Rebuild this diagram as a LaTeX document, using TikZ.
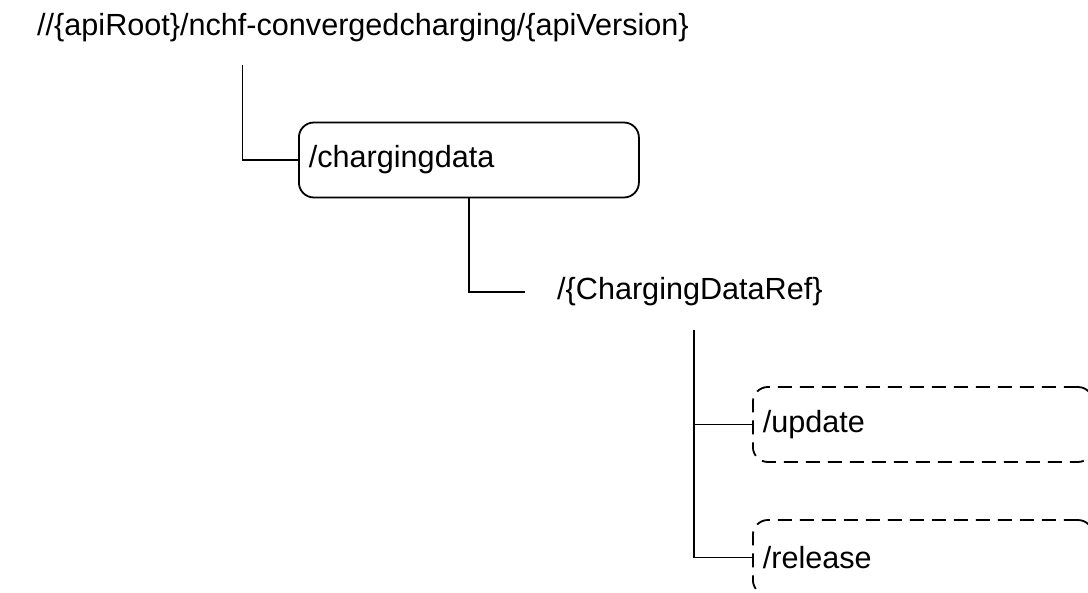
\documentclass[tikz,border=0pt]{standalone}
\usepackage{fontspec}
\setmainfont{Liberation Sans}
\usepackage{tikz}

\tikzset{
  res/.style={draw, line width=1.8pt, rounded corners=15pt, anchor=west,
    minimum height=75pt, inner xsep=10pt, text width=320pt, align=left},
  custop/.style={res, dash pattern=on 14pt off 8pt},
  conn/.style={line width=1.8pt}
}

\begin{document}
\begin{tikzpicture}[x=1pt, y=-1pt, font=\fontsize{30.6}{36}\selectfont]

  \clip (0,0) rectangle (1088,593);
  \useasboundingbox (0,0) rectangle (1088,593);

  \node[anchor=west, inner sep=0pt] (root) at (37,28) {//\{apiRoot\}/nchf-convergedcharging/\{apiVersion\}};
  \node[res, minimum width=340pt] (chg) at (298,160) {/chargingdata};
  \node[anchor=west, inner sep=0pt] (ref) at (557,292) {/\{ChargingDataRef\}};
  \node[custop] (upd) at (752,424.5) {/update};
  \node[custop] (rel) at (752,557.5) {/release};

  \coordinate (rootleg) at (242.5,65);
  \coordinate (refin) at (525,292);
  \coordinate (refleg) at (694,330);

  \draw[conn] (rootleg) |- (chg.west);
  \draw[conn] (chg.south) |- (refin);
  \draw[conn] (refleg) |- (upd.west);
  \draw[conn] (refleg) |- (rel.west);

\end{tikzpicture}
\end{document}
